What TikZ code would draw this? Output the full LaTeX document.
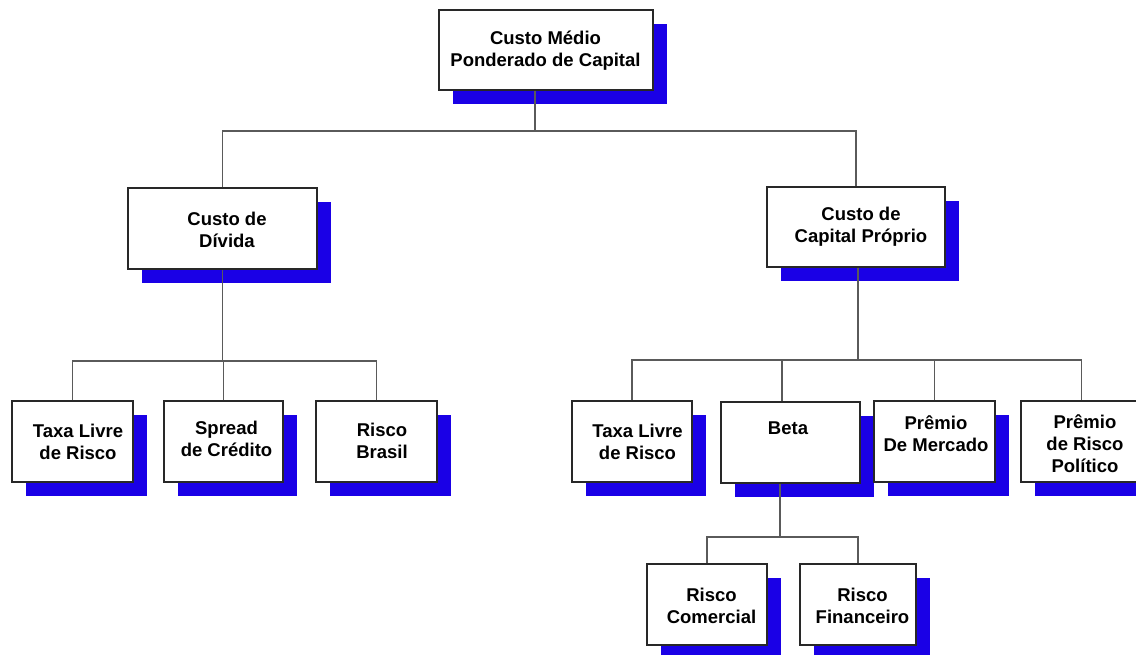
\documentclass[tikz,border=0pt]{standalone}
\usepackage{fontspec}
\setmainfont{Liberation Sans}
\usetikzlibrary{shadows}
\definecolor{shadowblue}{RGB}{26,0,230}
\definecolor{edgegray}{RGB}{40,40,40}
\definecolor{conngray}{RGB}{90,90,90}
\tikzset{
  box/.style={draw=edgegray, line width=1.2pt, fill=white, inner sep=0pt,
    minimum height=81pt,
    drop shadow={shadow xshift=14pt, shadow yshift=-14pt, fill=shadowblue, opacity=1}},
  txt/.style={inner sep=0pt, align=center, font=\fontsize{18.5}{22}\selectfont\bfseries},
  conn/.style={draw=conngray, line width=1.1pt}
}
\begin{document}
\begin{tikzpicture}[x=1pt,y=-1pt]
\useasboundingbox (0,0) rectangle (1136,654);
\clip (0,0) rectangle (1136,654);
% boxes
\node[box, minimum width=214pt, minimum height=80pt] (top) at (546,50) {};
\node[box, minimum width=189pt] (divida) at (222.5,228.5) {};
\node[box, minimum width=178pt, minimum height=80pt] (proprio) at (856,227) {};
\node[box, minimum width=121pt] (taxa1) at (72.5,441.5) {};
\node[box, minimum width=119pt] (spread) at (223.5,441.5) {};
\node[box, minimum width=121pt] (brasil) at (376.5,441.5) {};
\node[box, minimum width=120pt] (taxa2) at (632,441.5) {};
\node[box, minimum width=139pt] (beta) at (790.5,442.5) {};
\node[box, minimum width=121pt] (mercado) at (934.5,441.5) {};
\node[box, minimum width=121pt] (politico) at (1081.5,441.5) {};
\node[box, minimum width=120pt] (comercial) at (707,604.5) {};
\node[box, minimum width=116pt] (financeiro) at (858,604.5) {};
% texts
\node[txt] (ttop) at (545.5,51) {Custo Médio\\Ponderado de Capital};
\node[txt] (tdivida) at (227,230) {Custo de\\Dívida};
\node[txt] (tproprio) at (861,227) {Custo de\\Capital Próprio};
\node[txt] (ttaxa1) at (78,441.5) {Taxa Livre\\de Risco};
\node[txt] (tspread) at (226.5,439) {Spread\\de Crédito};
\node[txt] (tbrasil) at (382,441) {Risco\\Brasil};
\node[txt] (ttaxa2) at (637.5,442) {Taxa Livre\\de Risco};
\node[txt] (tbeta) at (788,428) {Beta};
\node[txt] (tmercado) at (936,433.5) {Prêmio\\De Mercado};
\node[txt] (tpolitico) at (1085,444) {Prêmio\\de Risco\\Político};
\node[txt] (tcomercial) at (711.5,605.5) {Risco\\Comercial};
\node[txt] (tfinanceiro) at (862.5,605.5) {Risco\\Financeiro};
% junctions
\coordinate (j0) at (535,131);
\coordinate (j1) at (222.5,361);
\coordinate (j2) at (858,360);
\coordinate (j3) at (780,537);
% connectors
\draw[conn] (top.south -| j0) -- (j0);
\draw[conn] (divida.north) |- (j0) -| (proprio.north);
\draw[conn] (divida.south) -- (j1);
\draw[conn] (taxa1.north) |- (j1) -| (brasil.north);
\draw[conn] (spread.north) -- (spread.north |- j1);
\draw[conn] (proprio.south -| j2) -- (j2);
\draw[conn] (taxa2.north) |- (j2) -| (politico.north);
\draw[conn] (beta.north -| 782,0) -- (782,360);
\draw[conn] (mercado.north) -- (mercado.north |- j2);
\draw[conn] (beta.south -| j3) -- (j3);
\draw[conn] (comercial.north) |- (j3) -| (financeiro.north);
\end{tikzpicture}
\end{document}
